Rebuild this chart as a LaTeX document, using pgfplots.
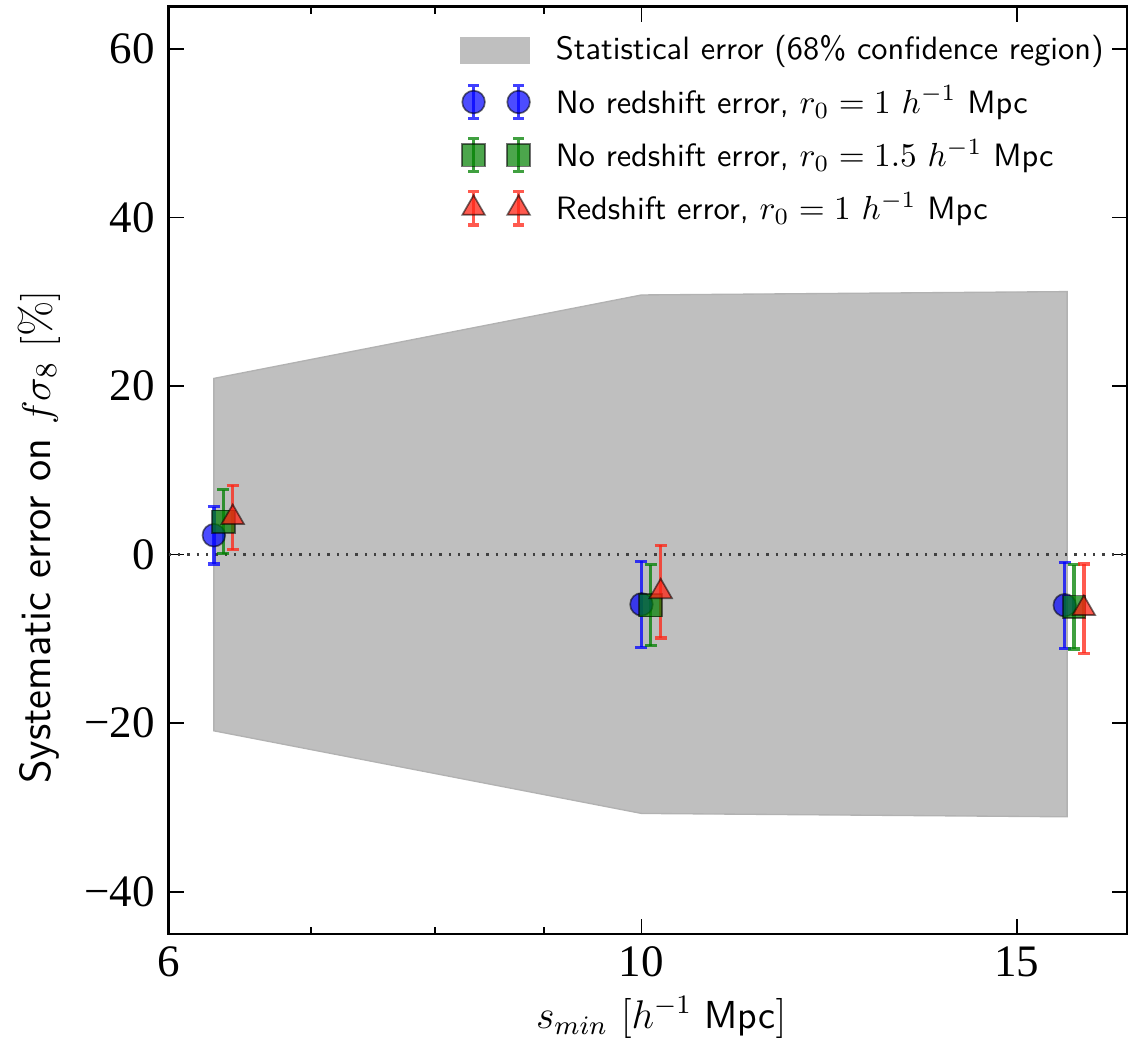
\documentclass[border=0pt]{standalone}
\usepackage{fontspec}
\usepackage{pgfplots}
\pgfplotsset{compat=1.18}
\newfontfamily\tickfont{Liberation Serif}

\definecolor{bandgray}{RGB}{191,191,191}
\definecolor{mblue}{RGB}{0,0,255}
\definecolor{mgreen}{RGB}{0,128,0}
\definecolor{mred}{RGB}{255,35,20}

% s_min, value, symmetric error (per cent)
\pgfplotstableread{
x      y     e
6.30   2.3   3.4
10.00 -5.9   5.1
15.80 -6.0   5.1
}\noerr
\pgfplotstableread{
x      y     e
6.365  3.9   3.8
10.10 -6.0   4.8
15.96 -6.2   5.0
}\noerrwide
\pgfplotstableread{
x      y     e
6.43   4.4   3.8
10.21 -4.4   5.5
16.13 -6.4   5.3
}\zerr

\pgfplotsset{
  errleg/.style={legend image code/.code={
    \draw[#1, opacity=0.75, line width=1pt]
      (3.9pt,-5pt) -- (3.9pt,5pt)
      (2.3pt,-5pt) -- (5.5pt,-5pt) (2.3pt,5pt) -- (5.5pt,5pt)
      (17.4pt,-5pt) -- (17.4pt,5pt)
      (15.8pt,-5pt) -- (19pt,-5pt) (15.8pt,5pt) -- (19pt,5pt);
    \draw plot coordinates {(3.9pt,0pt) (17.4pt,0pt)};
  }},
  series/.style={
    only marks, color=#1,
    error bars/y dir=both, error bars/y explicit,
    error bars/error bar style={#1, line width=1pt, opacity=0.75},
    error bars/error mark options={rotate=90, mark size=1.8pt, line width=1pt, #1, opacity=0.75},
  },
}

\begin{document}
\begin{tikzpicture}
\begin{axis}[
  scale only axis, width=287.4pt, height=278.1pt,
  xmode=log, xmin=6, xmax=16.9, ymin=-45, ymax=65,
  xtick={6,10,15}, xticklabels={6,10,15},
  minor xtick={7,8,9},
  ytick={-40,-20,...,60}, yticklabels={−40,−20,0,20,40,60},
  tick align=inside,
  major tick length=4.5pt, minor tick length=2.2pt,
  tick style={black, line width=0.5pt},
  axis line style={line width=0.8pt},
  tick label style={font=\tickfont\fontsize{13.5}{16}\selectfont},
  yticklabel style={xshift=-0.6pt},
  xticklabel style={yshift=-0.3pt},
  xlabel={$s_{min}$ $[h^{-1}$ \textsf{Mpc}$]$},
  ylabel={\textsf{Systematic error on} $f\sigma_8$ $[\%]$},
  label style={font=\fontsize{13}{15}\selectfont},
  xlabel style={font=\fontsize{11.7}{14}\selectfont,
    at={(axis description cs:0.499,0)}, anchor=base, yshift=-28.2pt, xshift=4.3pt},
  ylabel style={at={(axis description cs:0,0.428)}, anchor=base, yshift=35.6pt},
  legend cell align=left,
  legend style={draw=none, fill=none, at={(rel axis cs:1,1)}, anchor=north east,
    xshift=-5.3pt, yshift=-7pt, inner sep=0pt, row sep=3.3pt,
    font=\sffamily\fontsize{9.7}{11.5}\selectfont,
    nodes={inner sep=1.5pt},
    /tikz/every odd column/.append style={column sep=6.2pt}},
]
% statistical 68% band
\addplot[fill=bandgray, draw=black!30, line width=0.4pt, area legend,
  legend image code/.code={\fill[bandgray] (0pt,-3.8pt) rectangle (20.7pt,3.8pt);}]
  coordinates {(6.30,20.9) (10.0,30.8) (15.84,31.2) (15.84,-31.1) (10.0,-30.7) (6.30,-20.9)} -- cycle;
\addlegendentry{Statistical error (68\% confidence region)}

% zero line
\addplot[black!75, line width=0.9pt, dash pattern=on 0.7pt off 2.1pt, forget plot]
  coordinates {(6,0) (16.9,0)};

\addplot[series=mblue, errleg=mblue, mark=*, mark size=3.4pt,
  mark options={fill=mblue, fill opacity=0.7, draw=black, draw opacity=0.55, line width=0.5pt}]
  table[x=x, y=y, y error=e] {\noerr};
\addlegendentry{No redshift error, $r_0 = 1$ $h^{-1}$ Mpc}

\addplot[series=mgreen, errleg=mgreen, mark=square*, mark size=3.4pt,
  mark options={fill=mgreen, fill opacity=0.7, draw=black, draw opacity=0.55, line width=0.5pt}]
  table[x=x, y=y, y error=e] {\noerrwide};
\addlegendentry{No redshift error, $r_0 = 1.5$ $h^{-1}$ Mpc}

\addplot[series=mred, errleg=mred, mark=triangle*, mark size=3.9pt,
  mark options={fill=mred, fill opacity=0.75, draw=black, draw opacity=0.55, line width=0.5pt}]
  table[x=x, y=y, y error=e] {\zerr};
\addlegendentry{Redshift error, $r_0 = 1$ $h^{-1}$ Mpc}

\coordinate (bl) at (rel axis cs:0,0);
\coordinate (tr) at (rel axis cs:1,1);
\end{axis}
\pgfresetboundingbox
\useasboundingbox ([shift={(-50.6pt,-32.1pt)}]bl) rectangle ([shift={(0.6pt,2pt)}]tr);
\end{tikzpicture}
\end{document}
